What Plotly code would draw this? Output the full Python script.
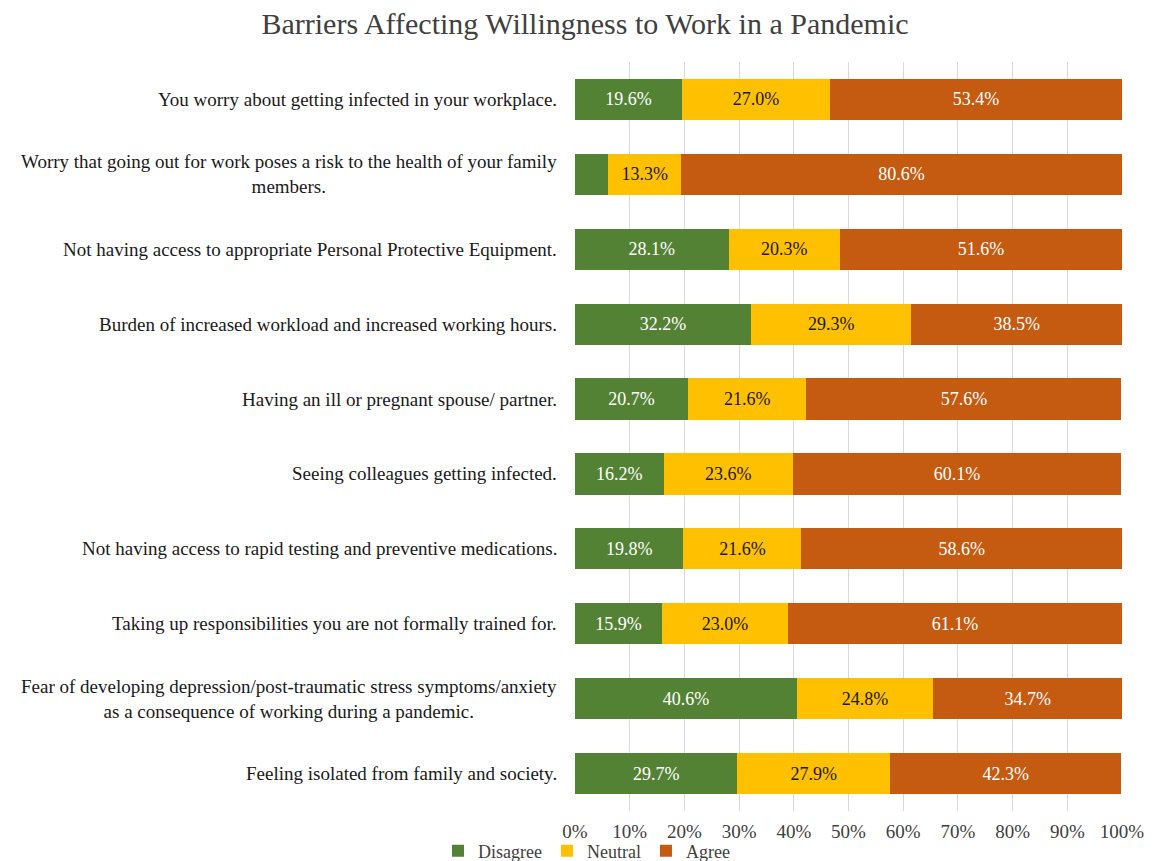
import plotly.graph_objects as go

categories = [
    "You worry about getting infected in your workplace.",
    "Worry that going out for work poses a risk to the health of your family<br>members.",
    "Not having access to appropriate Personal Protective Equipment.",
    "Burden of increased workload and increased working hours.",
    "Having an ill or pregnant spouse/ partner.",
    "Seeing colleagues getting infected.",
    "Not having access to rapid testing and preventive medications.",
    "Taking up responsibilities you are not formally trained for.",
    "Fear of developing depression/post-traumatic stress symptoms/anxiety<br>as a consequence of working during a pandemic.",
    "Feeling isolated from family and society.",
]
disagree = [19.6, 6.1, 28.1, 32.2, 20.7, 16.2, 19.8, 15.9, 40.6, 29.7]
neutral = [27.0, 13.3, 20.3, 29.3, 21.6, 23.6, 21.6, 23.0, 24.8, 27.9]
agree = [53.4, 80.6, 51.6, 38.5, 57.6, 60.1, 58.6, 61.1, 34.7, 42.3]
disagree_labels = ["19.6%", "", "28.1%", "32.2%", "20.7%", "16.2%", "19.8%", "15.9%", "40.6%", "29.7%"]
tick_values = list(range(0, 101, 10))
tick_labels = [f"{v}%" for v in tick_values]

# page body has an 8px default margin, so the figure is drawn slightly smaller
W, H = 1154, 853
font = "Liberation Serif"
fig = go.Figure()
series = [
    ("Disagree", disagree, "#548235", "white", disagree_labels),
    ("Neutral", neutral, "#FFC000", "#1a1a1a", None),
    ("Agree", agree, "#C55A11", "white", None),
]
for name, vals, col, tcol, labels in series:
    txt = labels if labels is not None else [f"{v:.1f}%" for v in vals]
    fig.add_trace(go.Bar(
        y=categories, x=vals, name=name, orientation="h",
        marker=dict(color=col, line=dict(width=0)),
        text=txt, textposition="inside", insidetextanchor="middle",
        textfont=dict(family=font, size=18, color=tcol),
        textangle=0, constraintext="none",
    ))

# category labels (centered multi-line like the original)
for c in categories:
    fig.add_annotation(x=0, xref="paper", y=c, yref="y", text=c,
                       xanchor="right", yanchor="middle", align="center",
                       xshift=-16, showarrow=False,
                       font=dict(family=font, size=19, color="#1a1a1a"))

fig.update_layout(
    barmode="stack",
    bargap=0.45,
    width=W, height=H,
    paper_bgcolor="white", plot_bgcolor="white",
    margin=dict(l=567, r=40, t=54, b=50, autoexpand=False),
    title=dict(text="Barriers Affecting Willingness to Work in a Pandemic",
               x=577 / W, xanchor="center", xref="container",
               y=1 - 15 / H, yanchor="middle", yref="container",
               font=dict(family=font, size=30, color="#404040")),
    font=dict(family=font, size=19, color="#404040"),
    legend=dict(orientation="h", x=430 / W, xanchor="left", xref="container",
                y=(H - 843) / H, yanchor="middle", yref="container",
                bgcolor="rgba(0,0,0,0)",
                font=dict(family=font, size=18, color="#404040"),
                traceorder="normal", itemwidth=30, tracegroupgap=0),
    showlegend=True,
)
fig.update_xaxes(range=[0, 100], tickvals=tick_values, ticktext=tick_labels,
                 showgrid=True, gridcolor="#D9D9D9", gridwidth=1,
                 zeroline=False, showline=False, ticks="", automargin=False,
                 ticklabelstandoff=7,
                 tickfont=dict(family=font, size=19, color="#404040"))
fig.update_yaxes(autorange="reversed", showgrid=False, ticks="", showline=False,
                 showticklabels=False, automargin=False)

fig.write_html("out.html")
